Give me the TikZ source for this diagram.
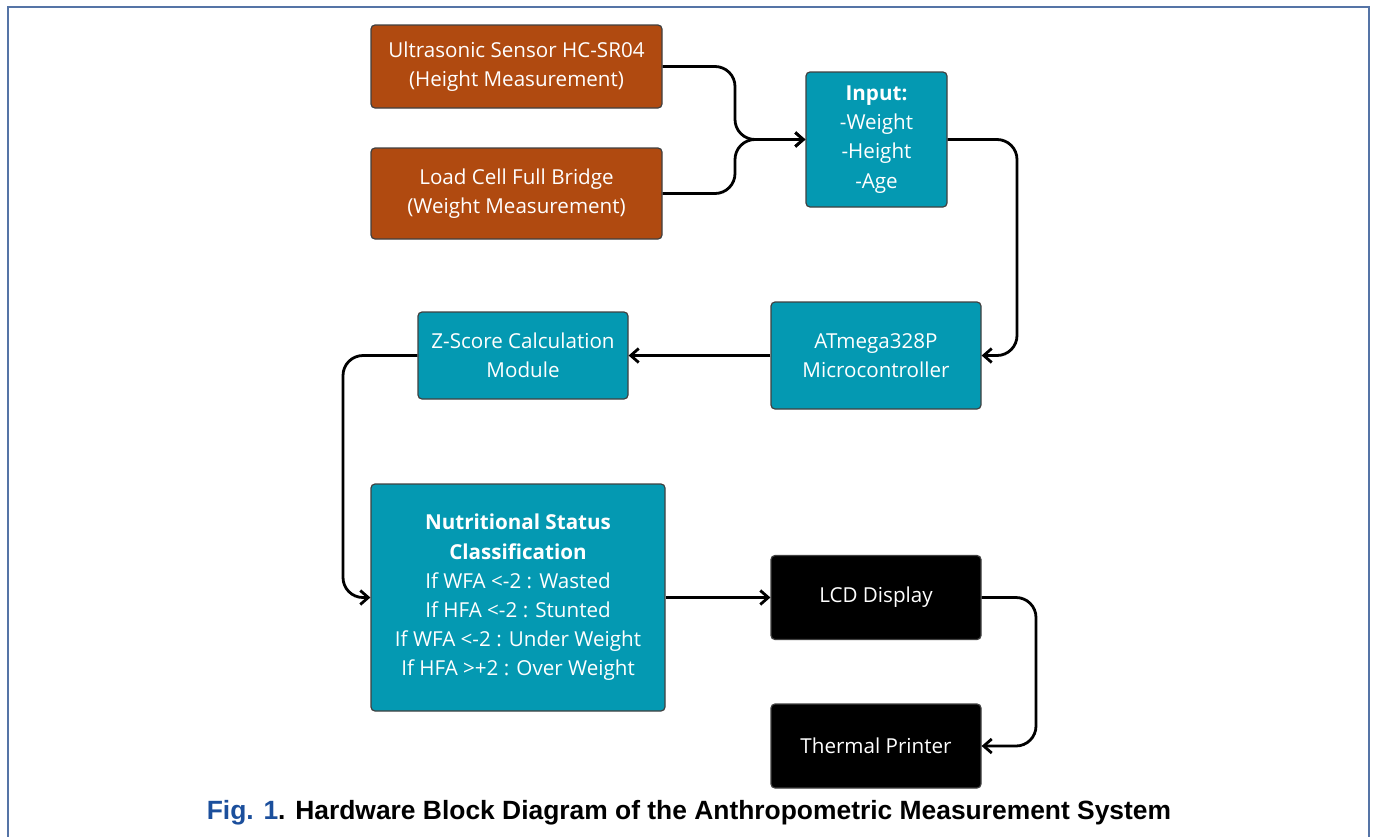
\documentclass[tikz,border=0pt]{standalone}
\usepackage{fontspec}
\setmainfont{Open Sans}
\newfontfamily\capfont{Liberation Sans}
\usetikzlibrary{arrows.meta}
\definecolor{sensorbrown}{HTML}{B04A10}
\definecolor{procteal}{HTML}{0499B2}
\definecolor{frameblue}{HTML}{5574A6}
\definecolor{figblue}{HTML}{1B4F9C}
\tikzset{
    block/.style={draw=black!75, line width=0.6pt, rounded corners=2pt, text=white,
        align=center, inner sep=0pt, font=\fontsize{10.3}{14.6}\selectfont},
    sensor/.style={block, fill=sensorbrown},
    proc/.style={block, fill=procteal},
    outdev/.style={block, fill=black},
    link/.style={line width=1.4pt, rounded corners=10pt, -{Straight Barb[length=4pt, width=7pt, line width=1.4pt]}}
}
\begin{document}
\begin{tikzpicture}[x=0.5pt, y=-0.5pt]
    \useasboundingbox (0, 0) rectangle (1375, 836);
    % Frame
    \draw[frameblue, line width=0.8pt] (8, 840) -- (8, 7) -- (1369, 7) -- (1369, 840);

    % Blocks
    \node[sensor, minimum width=145.5pt, minimum height=41.5pt] (us) at (516.5, 66.5)
        {Ultrasonic Sensor HC-SR04\\(Height Measurement)};
    \node[sensor, minimum width=145.5pt, minimum height=45.5pt] (lc) at (516.5, 193.5)
        {Load Cell Full Bridge\\(Weight Measurement)};
    \node[proc, minimum width=70.5pt, minimum height=67.5pt] (inp) at (876.5, 139.5)
        {\textbf{Input:}\\-Weight\\-Height\\-Age};
    \node[proc, minimum width=105pt, minimum height=53.5pt] (mcu) at (876, 355.5)
        {ATmega328P\\Microcontroller};
    \node[proc, minimum width=105pt, minimum height=43.5pt] (zs) at (523, 355.5)
        {Z-Score Calculation\\Module};
    \node[proc, minimum width=147pt, minimum height=113.5pt] (ns) at (518, 597.5)
        {\textbf{Nutritional Status}\\\textbf{Classification}\\If WFA <-2 : Wasted\\If HFA <-2 : Stunted\\If WFA <-2 : Under Weight\\If HFA >+2 : Over Weight};
    \node[outdev, minimum width=105pt, minimum height=42pt] (lcd) at (876, 597.5)
        {LCD Display};
    \node[outdev, minimum width=105pt, minimum height=42pt] (tp) at (876, 746)
        {Thermal Printer};

    % Connectors
    \coordinate (merge) at (735, 139.5);
    \draw[link] (us.east) -| (merge) -- (inp.west);
    \draw[link] (lc.east) -| (merge) -- (inp.west);
    \draw[link] (inp.east) -- (1017, 139.5) |- (mcu.east);
    \draw[link] (mcu.west) -- (zs.east);
    \draw[link] (zs.west) -- (343, 355.5) |- (ns.west);
    \draw[link] (ns.east) -- (lcd.west);
    \draw[link] (lcd.east) -- (1036, 597.5) |- (tp.east);

    % Caption
    \node[font=\capfont\bfseries\fontsize{13.2}{15}\selectfont] (cap) at (689, 813)
        {\textcolor{figblue}{Fig. 1}. Hardware Block Diagram of the Anthropometric Measurement System};
\end{tikzpicture}
\end{document}
